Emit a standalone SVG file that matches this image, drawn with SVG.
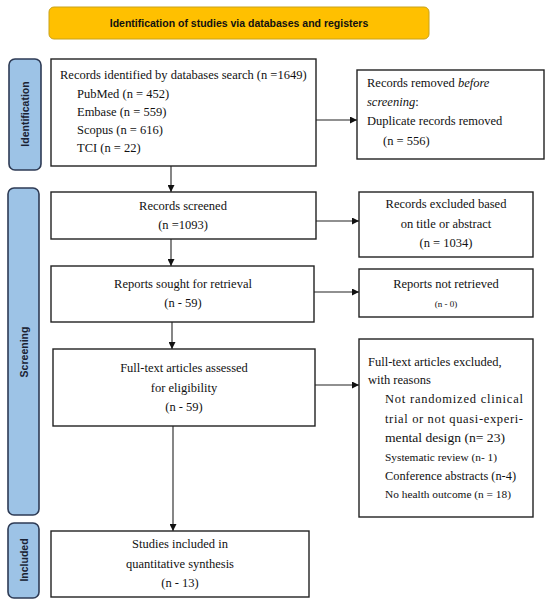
<svg xmlns="http://www.w3.org/2000/svg" width="550" height="604" viewBox="0 0 550 604">
<style>
.box{fill:#fff;stroke:#222;stroke-width:1.4}
.tab{fill:#9dc3e6;stroke:#2e3b55;stroke-width:1.6}
.t{font-family:'Liberation Serif','DejaVu Serif',serif;font-size:12.5px;fill:#111}
.s{font-size:11px}
.xs{font-size:9px}
.c{text-anchor:middle}
.tl{font-family:'Liberation Sans',Arial,sans-serif;font-size:10.5px;font-weight:bold;fill:#1a2233;text-anchor:middle}
.ln{stroke:#222;stroke-width:1.1;fill:none}
</style>
<defs>
<marker id="ah" viewBox="0 0 10 10" refX="10" refY="5" markerWidth="7" markerHeight="7" markerUnits="userSpaceOnUse" orient="auto">
<path d="M0,0 L10,5 L0,10 Z" fill="#111"/>
</marker>
</defs>
<rect width="550" height="604" fill="#fff"/>

<g id="header">
<rect x="49" y="7" width="380" height="32" rx="5" fill="#ffc000" stroke="#c9a21a" stroke-width="1"/>
<text x="239" y="27" class="tl" style="fill:#111">Identification of studies via databases and registers</text>
</g>

<g id="tab-identification">
<rect class="tab" x="9" y="59" width="32" height="111" rx="6"/>
<text class="tl" transform="translate(29,114) rotate(-90)">Identification</text>
</g>
<g id="tab-screening">
<rect class="tab" x="8" y="188" width="31" height="327" rx="6"/>
<text class="tl" transform="translate(28,352) rotate(-90)">Screening</text>
</g>
<g id="tab-included">
<rect class="tab" x="8" y="523" width="31" height="75" rx="6"/>
<text class="tl" transform="translate(28,560) rotate(-90)">Included</text>
</g>

<g id="connectors">
<line class="ln" x1="316" y1="120" x2="357" y2="120" marker-end="url(#ah)"/>
<line class="ln" x1="171" y1="166" x2="171" y2="192" marker-end="url(#ah)"/>
<line class="ln" x1="316" y1="221" x2="359" y2="221" marker-end="url(#ah)"/>
<line class="ln" x1="171" y1="239" x2="171" y2="266" marker-end="url(#ah)"/>
<line class="ln" x1="314" y1="292" x2="359" y2="292" marker-end="url(#ah)"/>
<line class="ln" x1="172" y1="322" x2="172" y2="349" marker-end="url(#ah)"/>
<line class="ln" x1="315" y1="385" x2="359" y2="385" marker-end="url(#ah)"/>
<line class="ln" x1="173" y1="426" x2="173" y2="531" marker-end="url(#ah)"/>
</g>

<g id="records-identified">
<rect class="box" x="51" y="59" width="265" height="107"/>
<text class="t" x="60" y="79">Records identified by databases search (n =1649)</text>
<text class="t" x="77" y="98">PubMed (n = 452)</text>
<text class="t" x="77" y="116">Embase (n = 559)</text>
<text class="t" x="77" y="134">Scopus (n = 616)</text>
<text class="t" x="77" y="152">TCI (n = 22)</text>
</g>

<g id="records-removed">
<rect class="box" x="357" y="70" width="187" height="89"/>
<text class="t" x="367" y="87">Records removed <tspan font-style="italic">before</tspan></text>
<text class="t" x="367" y="106"><tspan font-style="italic">screening</tspan>:</text>
<text class="t" x="367" y="125">Duplicate records removed</text>
<text class="t" x="383" y="145">(n = 556)</text>
</g>

<g id="records-screened">
<rect class="box" x="51" y="192" width="265" height="47"/>
<text class="t c" x="183" y="210">Records screened</text>
<text class="t c" x="183" y="229">(n =1093)</text>
</g>

<g id="records-excluded">
<rect class="box" x="359" y="192" width="174" height="65"/>
<text class="t c" x="446" y="208">Records excluded based</text>
<text class="t c" x="446" y="228">on title or abstract</text>
<text class="t c" x="446" y="247">(n = 1034)</text>
</g>

<g id="reports-sought">
<rect class="box" x="51" y="266" width="263" height="56"/>
<text class="t c" x="183" y="288">Reports sought for retrieval</text>
<text class="t c" x="183" y="307">(n - 59)</text>
</g>

<g id="reports-not-retrieved">
<rect class="box" x="359" y="269" width="174" height="48"/>
<text class="t c" x="446" y="288">Reports not retrieved</text>
<text class="t c xs" x="446" y="307">(n - 0)</text>
</g>

<g id="fulltext-assessed">
<rect class="box" x="53" y="349" width="262" height="77"/>
<text class="t c" x="184" y="372">Full-text articles assessed</text>
<text class="t c" x="184" y="392">for eligibility</text>
<text class="t c" x="184" y="411">(n - 59)</text>
</g>

<g id="fulltext-excluded">
<rect class="box" x="359" y="339" width="174" height="178"/>
<text class="t" x="368" y="366">Full-text articles excluded,</text>
<text class="t" x="368" y="384">with reasons</text>
<text class="t" x="385" y="403" textLength="138" lengthAdjust="spacing">Not randomized clinical</text>
<text class="t" x="385" y="423" textLength="138" lengthAdjust="spacing">trial or not quasi-experi-</text>
<text class="t" x="385" y="442" textLength="120" lengthAdjust="spacingAndGlyphs">mental design (n= 23)</text>
<text class="t s" x="385" y="461" textLength="112" lengthAdjust="spacingAndGlyphs">Systematic review (n- 1)</text>
<text class="t" x="385" y="480" textLength="131" lengthAdjust="spacingAndGlyphs">Conference abstracts (n-4)</text>
<text class="t s" x="385" y="498" textLength="126" lengthAdjust="spacingAndGlyphs">No health outcome (n = 18)</text>
</g>

<g id="studies-included">
<rect class="box" x="51" y="531" width="258" height="66"/>
<text class="t c" x="180" y="548">Studies included in</text>
<text class="t c" x="180" y="568">quantitative synthesis</text>
<text class="t c" x="180" y="587">(n - 13)</text>
</g>
</svg>
